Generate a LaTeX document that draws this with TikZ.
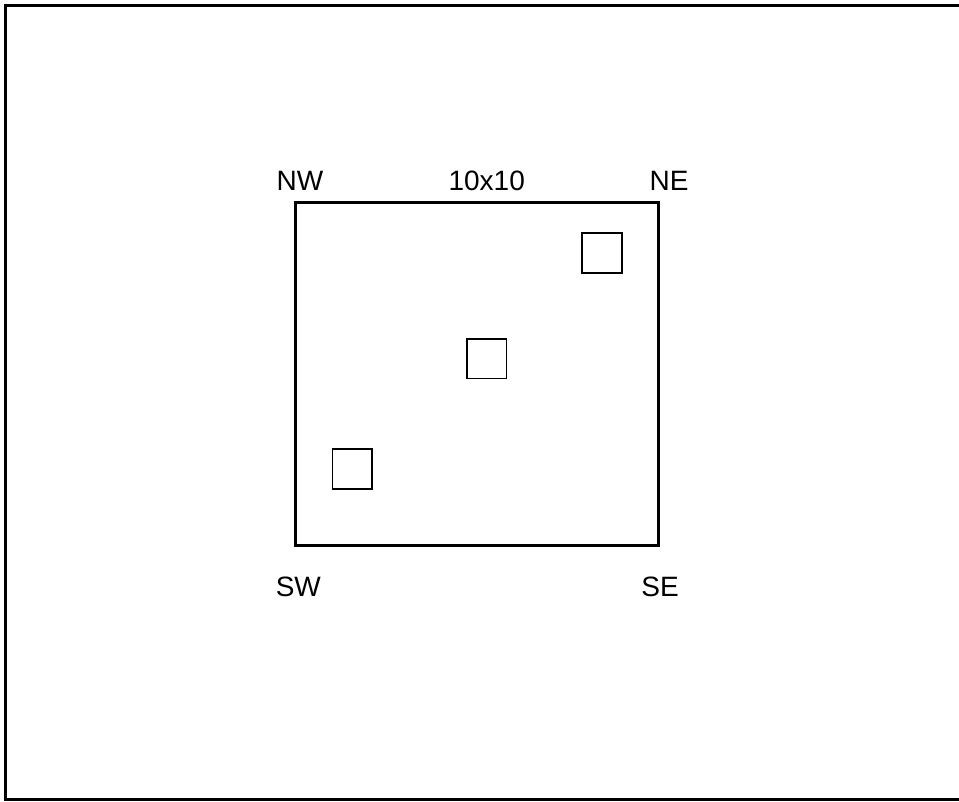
\documentclass[tikz,border=0pt]{standalone}
\usepackage{fontspec}
\setmainfont{Liberation Sans}
\begin{document}
\begin{tikzpicture}[x=1pt,y=-1pt,
  frame/.style={draw=black,line width=3pt},
  grid/.style={draw=black,line width=3pt,rectangle,inner sep=0pt,minimum width=363.5pt,minimum height=343.5pt},
  cell/.style={draw=black,line width=1.7pt,rectangle,inner sep=0pt,minimum size=39.5pt},
  lbl/.style={inner sep=0pt,anchor=base,font=\fontsize{28}{32}\selectfont}]
\useasboundingbox (0,0) rectangle (959,801);
\clip (0,0) rectangle (959,801);
\draw[frame] (5.5,5) rectangle (970,799);
\node[grid] (board) at (476.75,373.85) {};
\node[cell] (c1) at (602,253) {};
\node[cell] (c2) at (486.7,358.7) {};
\node[cell] (c3) at (352.2,469) {};
\node[lbl] (nw) at (300,190.7) {NW};
\node[lbl] (size) at (486.7,190.7) {10x10};
\node[lbl] (ne) at (669,190.7) {NE};
\node[lbl] (sw) at (298.3,596) {SW};
\node[lbl] (se) at (660,596) {SE};
\end{tikzpicture}
\end{document}
